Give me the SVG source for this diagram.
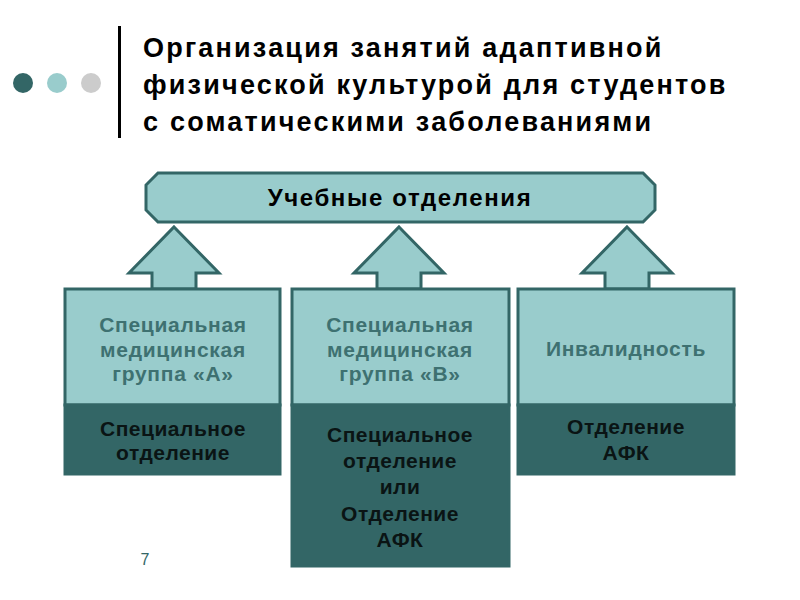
<svg xmlns="http://www.w3.org/2000/svg" width="800" height="600" viewBox="0 0 800 600">
<style>
.t{font-family:"Liberation Sans",Arial,sans-serif;font-weight:bold;text-anchor:middle}
.title{font-family:"Liberation Sans",Arial,sans-serif;font-weight:bold;font-size:27px;letter-spacing:2.2px;fill:#000}
.lt{fill:#99CCCC;stroke:#336666;stroke-width:3}
.dk{fill:#336666;stroke:#336666;stroke-width:3}
.ltxt{fill:#3E7171;font-size:21px;letter-spacing:0.7px}
.dtxt{fill:#0A1414;font-size:21px;letter-spacing:0.5px}
</style>
<rect width="800" height="600" fill="#fff"/>
<g id="decor">
<circle cx="23" cy="83" r="10" fill="#336666"/>
<circle cx="57" cy="83" r="10" fill="#99CCCC"/>
<circle cx="91" cy="83" r="10" fill="#CCCCCC"/>
<rect x="118" y="26" width="3" height="112" fill="#000"/>
</g>
<g id="title">
<text class="title" x="143" y="57">Организация занятий адаптивной</text>
<text class="title" x="143" y="94">физической культурой для студентов</text>
<text class="title" x="143" y="131">с соматическими заболеваниями</text>
</g>
<g id="connectors">
<polygon class="lt" points="174,227 219,273 196,273 196,289 152,289 152,273 129,273"/>
<polygon class="lt" points="399,227 444,273 421,273 421,289 377,289 377,273 354,273"/>
<polygon class="lt" points="627,227 672,273 649,273 649,289 605,289 605,273 582,273"/>
</g>
<g id="banner">
<polygon class="lt" points="158,173 643,173 655,185 655,210 643,222 158,222 146,210 146,185"/>
<text class="t" x="400" y="206" font-size="24" letter-spacing="1.6" fill="#000">Учебные отделения</text>
</g>
<g id="groupA">
<rect class="lt" x="65" y="289" width="215" height="116"/>
<rect class="dk" x="65" y="405" width="215" height="69"/>
<text class="t ltxt" x="173" y="332">Специальная</text>
<text class="t ltxt" x="173" y="357">медицинская</text>
<text class="t ltxt" x="173" y="381">группа «А»</text>
<text class="t dtxt" x="173" y="436">Специальное</text>
<text class="t dtxt" x="173" y="460">отделение</text>
</g>
<g id="groupB">
<rect class="lt" x="292" y="289" width="217" height="116"/>
<rect class="dk" x="292" y="405" width="217" height="161"/>
<text class="t ltxt" x="400" y="332">Специальная</text>
<text class="t ltxt" x="400" y="357">медицинская</text>
<text class="t ltxt" x="400" y="381">группа «В»</text>
<text class="t dtxt" x="400" y="442">Специальное</text>
<text class="t dtxt" x="400" y="468">отделение</text>
<text class="t dtxt" x="400" y="494">или</text>
<text class="t dtxt" x="400" y="521">Отделение</text>
<text class="t dtxt" x="400" y="547">АФК</text>
</g>
<g id="invalid">
<rect class="lt" x="518" y="289" width="216" height="116"/>
<rect class="dk" x="518" y="405" width="216" height="69"/>
<text class="t ltxt" x="626" y="356">Инвалидность</text>
<text class="t dtxt" x="626" y="434">Отделение</text>
<text class="t dtxt" x="626" y="460">АФК</text>
</g>
<text x="145" y="565" font-family="Liberation Sans,Arial,sans-serif" font-size="16" fill="#336666" text-anchor="middle">7</text>
</svg>
